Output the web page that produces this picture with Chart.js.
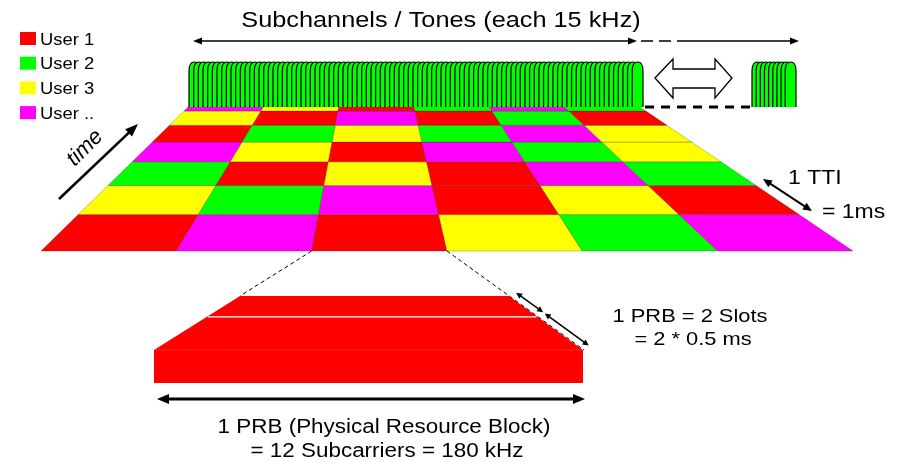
<!DOCTYPE html>
<html>
<head>
<meta charset="utf-8">
<script src="https://cdn.jsdelivr.net/npm/chart.js@4.4.1/dist/chart.umd.min.js"></script>
<style>
  html, body { margin: 0; padding: 0; background: #fff; }
  #wrap { width: 915px; height: 462px; }
</style>
</head>
<body>
<div id="wrap"><canvas id="lte" width="915" height="462"></canvas></div>
<script>
const users = ['User 1', 'User 2', 'User 3', 'User ..'];
const userColors = ['#ff0000', '#00ff00', '#ffff00', '#ff00ff'];

// owner of each resource block, one array per TTI (front row first), one entry per PRB group
const tti1 = [0, 3, 0, 2, 1, 3];
const tti2 = [2, 1, 3, 0, 2, 0];
const tti3 = [1, 0, 2, 0, 3, 1];
const tti4 = [3, 2, 0, 3, 1, 2];
const tti5 = [0, 1, 2, 1, 3, 2];
const tti6 = [2, 0, 3, 0, 1, 0];
const tti7 = [3, 2, 0, 1, 3, 1];
const ttiRows = [tti1, tti2, tti3, tti4, tti5, tti6, tti7];

// subcarrier comb: tones in the main band and in the far band
const toneCounts = [96, 9];
const slotsPerPrb = 2;
const zoomedBlock = [0, 2]; // [tti, group] of the block pulled out below

const titleText = 'Subchannels / Tones (each 15 kHz)';
const timeText = 'time';
const ttiText = ['1 TTI', '= 1ms'];
const slotText = ['1 PRB = 2 Slots', '= 2 * 0.5 ms'];
const prbText = ['1 PRB (Physical Resource Block)', '= 12 Subcarriers = 180 kHz'];

// layout (canvas units, y down)
const GRID = { left: 41, right: 853, front: 251, vx: 372.7, vy: -73.5, k: 0.1264 };
const BOX = { left: 154, right: 583, top: 350, bottom: 383, back: 296 };
const FONT = '"Liberation Sans", Arial, sans-serif';
const STRETCH = 1.15;

function ground(u, d) {
  const s = 1 / (1 + GRID.k * d);
  const x0 = GRID.left + (GRID.right - GRID.left) * u / tti1.length;
  return [GRID.vx + (x0 - GRID.vx) * s, GRID.vy + (GRID.front - GRID.vy) * s];
}

const diagram = {
  id: 'lteGrid',
  afterDatasetsDraw(chart) {
    const ctx = chart.ctx;
    const sx = chart.scales.x, sy = chart.scales.y;
    const P = (x, y) => [sx.getPixelForValue(x), sy.getPixelForValue(y)];

    function poly(pts, fill, stroke, lw) {
      ctx.beginPath();
      pts.forEach((p, i) => { const q = P(p[0], p[1]); i ? ctx.lineTo(q[0], q[1]) : ctx.moveTo(q[0], q[1]); });
      ctx.closePath();
      if (fill) { ctx.fillStyle = fill; ctx.fill(); }
      if (stroke) { ctx.strokeStyle = stroke; ctx.lineWidth = lw || 1; ctx.stroke(); }
    }
    function line(x1, y1, x2, y2, lw, dash, color) {
      const a = P(x1, y1), b = P(x2, y2);
      ctx.save();
      ctx.strokeStyle = color || '#000'; ctx.lineWidth = lw; ctx.setLineDash(dash || []);
      ctx.beginPath(); ctx.moveTo(a[0], a[1]); ctx.lineTo(b[0], b[1]); ctx.stroke();
      ctx.restore();
    }
    function head(x, y, ang, len, hw) {
      const p = P(x, y), c = Math.cos(ang), s = Math.sin(ang);
      ctx.fillStyle = '#000';
      ctx.beginPath();
      ctx.moveTo(p[0], p[1]);
      ctx.lineTo(p[0] - len * c + hw * s, p[1] - len * s - hw * c);
      ctx.lineTo(p[0] - len * c - hw * s, p[1] - len * s + hw * c);
      ctx.closePath(); ctx.fill();
    }
    function arrow(x1, y1, x2, y2, lw, len, hw, both) {
      const ang = Math.atan2(y2 - y1, x2 - x1), c = Math.cos(ang), s = Math.sin(ang);
      const sx1 = both ? x1 + c * len * 0.6 : x1, sy1 = both ? y1 + s * len * 0.6 : y1;
      line(sx1, sy1, x2 - c * len * 0.6, y2 - s * len * 0.6, lw);
      head(x2, y2, ang, len, hw);
      if (both) head(x1, y1, ang + Math.PI, len, hw);
    }
    function text(str, x, y, size, align, style) {
      const p = P(x, y);
      ctx.save();
      ctx.translate(p[0], p[1]);
      ctx.scale(STRETCH, 1);
      ctx.font = (style || '') + ' ' + size + 'px ' + FONT;
      ctx.textAlign = align; ctx.textBaseline = 'alphabetic'; ctx.fillStyle = '#000';
      ctx.fillText(str, 0, 0);
      ctx.restore();
    }
    function comb(x0, x1, n) {
      const base = 107, top = 62, w = 5.4;
      const sp = (x1 - x0 - 2 * w) / (n - 1);
      ctx.save();
      ctx.lineWidth = 1.2; ctx.strokeStyle = '#000'; ctx.fillStyle = '#00ff00';
      for (let i = 0; i < n; i++) {
        const cx = x0 + w + i * sp;
        const a = P(cx - w, base), b = P(cx + w, base), t = P(cx, top);
        const r = P(cx, top + 9);
        ctx.beginPath();
        ctx.moveTo(a[0], a[1]);
        ctx.lineTo(a[0], r[1]);
        ctx.bezierCurveTo(a[0], t[1] + 2, t[0] - (t[0] - a[0]) * 0.5, t[1], t[0], t[1]);
        ctx.bezierCurveTo(t[0] + (b[0] - t[0]) * 0.5, t[1], b[0], t[1] + 2, b[0], r[1]);
        ctx.lineTo(b[0], b[1]);
        ctx.fill(); ctx.stroke();
      }
      ctx.restore();
    }

    // resource grid in perspective
    ttiRows.forEach((row, d) => row.forEach((u, c) => {
      poly([ground(c, d), ground(c + 1, d), ground(c + 1, d + 1), ground(c, d + 1)],
        userColors[u], 'rgba(40,40,40,0.45)', 0.6);
    }));

    // subcarrier combs
    comb(189, 643, toneCounts[0]);
    comb(752, 796, toneCounts[1]);
    line(645, 107, 752, 107, 3, [9, 7]);

    // hollow double arrow (gap in spectrum)
    poly([[655, 78], [673, 59], [673, 69], [715, 69], [715, 59], [732, 78],
          [715, 98], [715, 88], [673, 88], [673, 98]], '#fff', '#000', 1.3);

    // bandwidth arrow under the title
    arrow(193, 41, 637, 41, 1.6, 9, 3.5, true);
    line(641, 41, 683, 41, 1.6, [12, 6]);
    arrow(683, 41, 799, 41, 1.6, 9, 3.5, false);
    text(titleText, 441, 27, 22, 'center');

    // time axis
    arrow(59, 199, 138, 124, 2.6, 13, 5, false);
    const tp = P(85, 148);
    ctx.save();
    ctx.translate(tp[0], tp[1]);
    ctx.rotate(-Math.PI / 4);
    ctx.font = 'italic 22px ' + FONT;
    ctx.textAlign = 'center'; ctx.textBaseline = 'middle'; ctx.fillStyle = '#000';
    ctx.fillText(timeText, 0, 0);
    ctx.restore();

    // TTI marker
    arrow(763, 179, 812, 211, 2, 9, 4, true);
    text(ttiText[0], 788, 184, 20, 'left');
    text(ttiText[1], 822, 218, 20, 'left');

    // pulled-out PRB
    const cellL = ground(zoomedBlock[1], zoomedBlock[0]);
    const cellR = ground(zoomedBlock[1] + 1, zoomedBlock[0]);
    const color = userColors[ttiRows[zoomedBlock[0]][zoomedBlock[1]]];
    const edgeX = (x0, cx, y) => x0 + (cx[0] - x0) * (BOX.top - y) / (BOX.top - cx[1]);
    const bL = edgeX(BOX.left, cellL, BOX.back), bR = edgeX(BOX.right, cellR, BOX.back);
    poly([[bL, BOX.back], [bR, BOX.back], [BOX.right, BOX.top], [BOX.left, BOX.top]], color);
    poly([[BOX.left, BOX.top], [BOX.right, BOX.top], [BOX.right, BOX.bottom], [BOX.left, BOX.bottom]], color);
    line(BOX.left, BOX.top, BOX.right, BOX.top, 0.5, null, 'rgba(255,255,255,0.25)');

    // slot boundaries in perspective
    const slopeL = (cellL[0] - BOX.left) / (BOX.top - cellL[1]);
    const slopeR = (BOX.right - cellR[0]) / (BOX.top - cellR[1]);
    const vy = BOX.top - (BOX.right - BOX.left) / (slopeL + slopeR);
    const inv0 = 1 / (BOX.top - vy), inv1 = 1 / (BOX.back - vy);
    const slotY = [];
    for (let i = 0; i <= slotsPerPrb; i++) {
      slotY.push(vy + 1 / (inv0 + (inv1 - inv0) * i / slotsPerPrb));
    }
    for (let i = 1; i < slotsPerPrb; i++) {
      line(edgeX(BOX.left, cellL, slotY[i]) + 1, slotY[i], edgeX(BOX.right, cellR, slotY[i]) - 1, slotY[i], 1.2, null, '#fff');
    }

    line(cellL[0], cellL[1], bL, BOX.back, 1, [4, 3]);
    line(cellR[0], cellR[1], BOX.right + 1, BOX.top, 1, [4, 3]);

    // slot arrows along the right edge
    const ex = BOX.right - bR, ey = BOX.top - BOX.back, el = Math.hypot(ex, ey);
    const ux = ex / el, uy = ey / el, nx = uy * 7, ny = -ux * 7;
    for (let i = 0; i < slotsPerPrb; i++) {
      const y1 = slotY[slotsPerPrb - i], y2 = slotY[slotsPerPrb - i - 1];
      const x1 = edgeX(BOX.right, cellR, y1), x2 = edgeX(BOX.right, cellR, y2);
      arrow(x1 + nx + ux * 4, y1 + ny + uy * 4, x2 + nx + ux * 2, y2 + ny + uy * 2, 1.5, 6, 3, true);
    }
    text(slotText[0], 690, 322, 19, 'center');
    text(slotText[1], 693, 345, 19, 'center');

    arrow(157, 399, 585, 399, 3, 12, 5, true);
    text(prbText[0], 384, 433, 19.5, 'center');
    text(prbText[1], 387, 457, 19.5, 'center');

    // legend from the datasets
    chart.data.datasets.forEach((ds, i) => {
      const y = 32 + i * 24.7;
      poly([[20, y], [36, y], [36, y + 13], [20, y + 13]], ds.backgroundColor);
      text(ds.label, 40, y + 12.5, 16, 'left');
    });
  }
};

new Chart(document.getElementById('lte'), {
  type: 'scatter',
  data: {
    datasets: users.map((u, i) => ({ label: u, data: [], backgroundColor: userColors[i] }))
  },
  options: {
    responsive: false,
    animation: false,
    layout: { padding: 0 },
    plugins: { legend: { display: false }, tooltip: { enabled: false } },
    scales: {
      x: { type: 'linear', min: 0, max: 915, display: false },
      y: { type: 'linear', min: 0, max: 462, reverse: true, display: false }
    }
  },
  plugins: [diagram]
});
</script>
</body>
</html>
